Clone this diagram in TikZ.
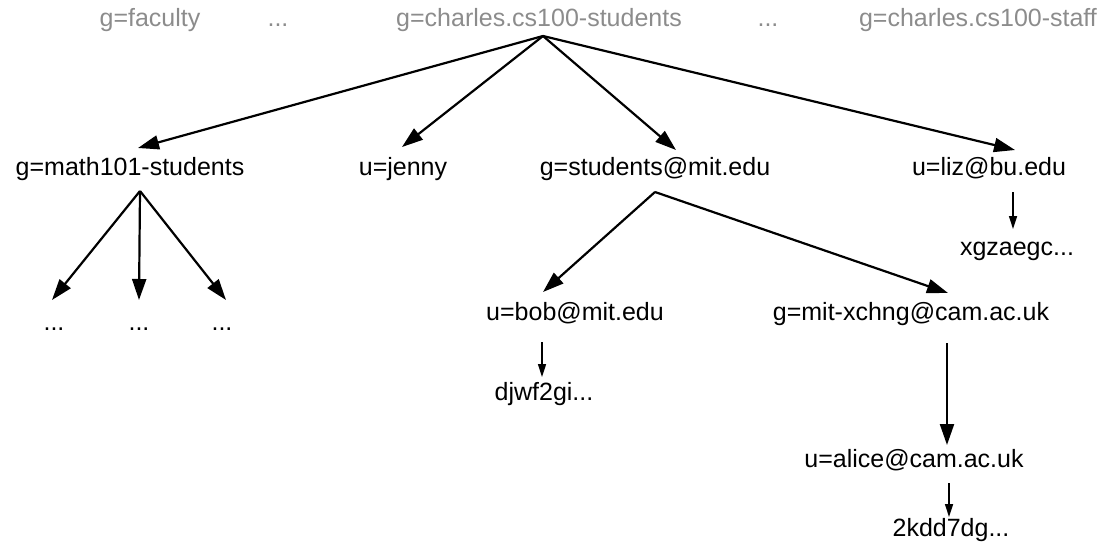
\documentclass[tikz,border=0pt]{standalone}
\usepackage{fontspec}
\setmainfont{Liberation Sans}
\usetikzlibrary{arrows.meta}
\definecolor{toptext}{HTML}{8C8C8C}
\begin{document}
\begin{tikzpicture}[x=1pt,y=-1pt,
  lbl/.style={inner sep=0pt, anchor=base, font=\fontsize{25}{30}\selectfont},
  toplbl/.style={lbl, text=toptext},
  arr/.style={-{Triangle[length=21pt,width=14pt]}, line width=2.2pt},
  sarr/.style={-{Triangle[length=13pt,width=8pt]}, line width=1.6pt}]
\useasboundingbox (0,0) rectangle (1108,554);
% top row
\node[toplbl] (fac) at (150,26) {g=faculty};
\node[toplbl] (dl) at (278,26) {...};
\node[toplbl] (top) at (539,26) {g=charles.cs100-students};
\node[toplbl] (dr) at (768,26) {...};
\node[toplbl] (staff) at (978,26) {g=charles.cs100-staff};
% second row
\node[lbl] (math) at (130,175) {g=math101-students};
\node[lbl] (jenny) at (403,175) {u=jenny};
\node[lbl] (smit) at (655,175) {g=students@mit.edu};
\node[lbl] (liz) at (989,175) {u=liz@bu.edu};
\node[lbl] (xgz) at (1017,255) {xgzaegc...};
% third row
\node[lbl] (d1) at (54,330) {...};
\node[lbl] (d2) at (139,330) {...};
\node[lbl] (d3) at (222,330) {...};
\node[lbl] (bob) at (575,320) {u=bob@mit.edu};
\node[lbl] (mx) at (911,320) {g=mit-xchng@cam.ac.uk};
\node[lbl] (djw) at (544,400) {djwf2gi...};
\node[lbl] (alice) at (914,467) {u=alice@cam.ac.uk};
\node[lbl] (kdd) at (951,536) {2kdd7dg...};
% connectors
\draw[arr] ([shift={(4,10)}]top.base) -- ([shift={(8,-27)}]math.base);
\draw[arr] ([shift={(4,10)}]top.base) -- ([shift={(-1,-28)}]jenny.base);
\draw[arr] ([shift={(4,10)}]top.base) -- ([shift={(21,-25)}]smit.base);
\draw[arr] ([shift={(4,10)}]top.base) -- ([shift={(26,-25)}]liz.base);
\draw[arr] ([shift={(10,16)}]math.base) -- ([shift={(-2,-30)}]d1.base);
\draw[arr] ([shift={(10,16)}]math.base) -- ([shift={(0,-30)}]d2.base);
\draw[arr] ([shift={(10,16)}]math.base) -- ([shift={(4,-30)}]d3.base);
\draw[arr] ([shift={(0,17)}]smit.base) -- ([shift={(-32,-28)}]bob.base);
\draw[arr] ([shift={(0,17)}]smit.base) -- ([shift={(37,-27)}]mx.base);
\draw[arr] ([shift={(36,23)}]mx.base) -- ([shift={(33,-22)}]alice.base);
\draw[sarr] ([shift={(24,17)}]liz.base) -- ([shift={(-4,-26)}]xgz.base);
\draw[sarr] ([shift={(-33,22)}]bob.base) -- ([shift={(-2,-23)}]djw.base);
\draw[sarr] ([shift={(35,16)}]alice.base) -- ([shift={(-2,-19)}]kdd.base);
\end{tikzpicture}
\end{document}
